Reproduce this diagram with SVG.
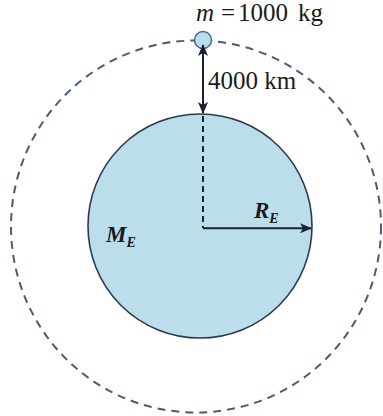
<svg xmlns="http://www.w3.org/2000/svg" width="383" height="416" viewBox="0 0 383 416">
<style>
.lbl{font-family:"Liberation Serif","DejaVu Serif",serif;fill:#1a1a1a}
.it{font-style:italic}
.bi{font-style:italic;font-weight:bold}
.ln{stroke:#1a2030;stroke-width:2;fill:none}
</style>
<defs>
<marker id="ah" viewBox="0 0 12 10" refX="11" refY="5" markerWidth="12" markerHeight="10" markerUnits="userSpaceOnUse" orient="auto-start-reverse">
<path d="M0,0 L12,5 L0,10 L3,5 Z" fill="#1a2030"/>
</marker>
</defs>
<rect width="383" height="416" fill="#ffffff"/>
<g id="orbit">
<ellipse cx="196" cy="226.5" rx="185" ry="186" fill="none" stroke="#4a5a78" stroke-width="2" stroke-dasharray="8 6"/>
</g>
<g id="earth">
<circle cx="200" cy="226" r="112" fill="#bcdeeb" stroke="#2b3a52" stroke-width="1.6"/>
<text class="lbl bi" x="106" y="242" font-size="23">M<tspan font-size="14" dy="5">E</tspan></text>
</g>
<g id="satellite">
<circle cx="203" cy="40" r="8.5" fill="#bcdeeb" stroke="#4a6a90" stroke-width="1.5"/>
<text class="lbl" x="196" y="21" font-size="25"><tspan class="it">m</tspan><tspan x="221">=</tspan><tspan x="238">1000</tspan><tspan x="298">kg</tspan></text>
</g>
<g id="connectors">
<line class="ln" x1="203" y1="45" x2="203" y2="113" marker-start="url(#ah)" marker-end="url(#ah)"/>
<text class="lbl" x="208" y="89" font-size="25">4000 km</text>
<line x1="203" y1="116" x2="203" y2="228" stroke="#1a2030" stroke-width="2" stroke-dasharray="6 4"/>
<line class="ln" x1="203" y1="228.3" x2="311" y2="228.3" marker-end="url(#ah)"/>
<text class="lbl bi" x="254" y="218" font-size="23">R<tspan font-size="14" dy="5">E</tspan></text>
</g>
</svg>
